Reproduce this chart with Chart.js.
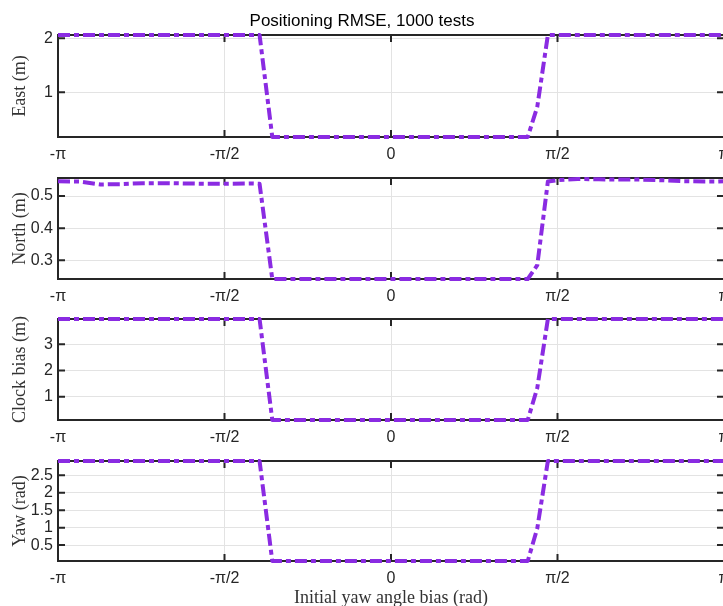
<!DOCTYPE html>
<html>
<head>
<meta charset="utf-8">
<script src="https://cdn.jsdelivr.net/npm/chart.js@4.4.1/dist/chart.umd.min.js"></script>
<style>
  html, body { margin: 0; padding: 0; background: #fff; overflow: hidden; }
  #figure { position: relative; width: 723px; height: 606px; overflow: hidden; }
  #figure canvas { position: absolute; left: 0; }
  #eastChart  { top: 0px; }
  #northChart { top: 162px; }
  #clockChart { top: 303px; }
  #yawChart   { top: 445px; }
</style>
</head>
<body>
<div id="figure">
  <canvas id="eastChart" width="782" height="167"></canvas>
  <canvas id="northChart" width="782" height="147"></canvas>
  <canvas id="clockChart" width="782" height="147"></canvas>
  <canvas id="yawChart" width="782" height="164"></canvas>
</div>
<script>
// initial yaw angle bias (rad) for each test batch
const yawBias = [-3.1416, -2.94, -2.74, -2.54, -2.34, -2.14, -1.94, -1.74, -1.54, -1.34, -1.24,
  -1.12, -0.94, -0.74, -0.54, -0.34, -0.14, 0.06, 0.26, 0.46, 0.66, 0.86, 1.06, 1.29,
  1.38, 1.48, 1.56, 1.76, 1.96, 2.16, 2.36, 2.56, 2.76, 2.96, 3.06, 3.1416];

const eastRmse = [2.06, 2.06, 2.06, 2.06, 2.06, 2.06, 2.06, 2.06, 2.06, 2.06, 2.06,
  0.17, 0.17, 0.17, 0.17, 0.17, 0.17, 0.17, 0.17, 0.17, 0.17, 0.17, 0.17, 0.17,
  0.73, 2.06, 2.06, 2.06, 2.06, 2.06, 2.06, 2.06, 2.06, 2.06, 2.06, 2.06];

const northRmse = [0.546, 0.545, 0.536, 0.537, 0.540, 0.540, 0.539, 0.538, 0.538, 0.539, 0.538,
  0.242, 0.242, 0.242, 0.242, 0.242, 0.242, 0.242, 0.242, 0.242, 0.242, 0.242, 0.242, 0.242,
  0.285, 0.545, 0.549, 0.553, 0.552, 0.551, 0.551, 0.549, 0.546, 0.545, 0.545, 0.546];

const clockRmse = [3.96, 3.96, 3.96, 3.96, 3.96, 3.96, 3.96, 3.96, 3.96, 3.96, 3.96,
  0.11, 0.11, 0.11, 0.11, 0.11, 0.11, 0.11, 0.11, 0.11, 0.11, 0.11, 0.11, 0.11,
  1.33, 3.96, 3.96, 3.96, 3.96, 3.96, 3.96, 3.96, 3.96, 3.96, 3.96, 3.96];

const yawRmse = [2.91, 2.91, 2.91, 2.91, 2.91, 2.91, 2.91, 2.91, 2.91, 2.91, 2.91,
  0.045, 0.045, 0.045, 0.045, 0.045, 0.045, 0.045, 0.045, 0.045, 0.045, 0.045, 0.045, 0.045,
  0.98, 2.91, 2.91, 2.91, 2.91, 2.91, 2.91, 2.91, 2.91, 2.91, 2.91, 2.91];

const xTickValues = [-Math.PI, -Math.PI / 2, 0, Math.PI / 2, Math.PI];
const xTickLabels = ['-π', '-π/2', '0', 'π/2', 'π'];

const eastTicks = [1, 2];
const northTicks = [0.3, 0.4, 0.5];
const clockTicks = [1, 2, 3];
const yawTicks = [0.5, 1, 1.5, 2, 2.5];

const eastLimits = [0.17, 2.06];
const northLimits = [0.242, 0.556];
const clockLimits = [0.11, 3.96];
const yawLimits = [0.045, 2.91];

Chart.defaults.font.family = "'Liberation Sans', Arial, sans-serif";
Chart.defaults.color = '#262626';

const TICK_LEN = 7;
const AXIS_COLOR = '#262626';

// box around the plot area with inward ticks on all four sides
const axisBox = {
  id: 'axisBox',
  beforeDatasetsDraw(chart) {
    const { ctx, chartArea: a, scales: { x, y } } = chart;
    ctx.save();
    ctx.strokeStyle = AXIS_COLOR;
    ctx.lineWidth = 2;
    ctx.strokeRect(a.left, a.top, a.right - a.left, a.bottom - a.top);
    ctx.beginPath();
    x.ticks.forEach(t => {
      const px = x.getPixelForValue(t.value);
      ctx.moveTo(px, a.bottom); ctx.lineTo(px, a.bottom - TICK_LEN);
      ctx.moveTo(px, a.top); ctx.lineTo(px, a.top + TICK_LEN);
    });
    y.ticks.forEach(t => {
      const py = y.getPixelForValue(t.value);
      ctx.moveTo(a.left, py); ctx.lineTo(a.left + TICK_LEN, py);
      ctx.moveTo(a.right, py); ctx.lineTo(a.right - TICK_LEN, py);
    });
    ctx.stroke();
    ctx.restore();
  }
};

function makePanel(id, values, limits, yTicks, yTitle, opts) {
  const ctx = document.getElementById(id).getContext('2d');
  return new Chart(ctx, {
    type: 'line',
    data: {
      datasets: [{
        data: yawBias.map((v, i) => ({ x: v, y: values[i] })),
        borderColor: '#8A2BE2',
        borderWidth: 4,
        borderDash: [12, 4, 5, 4],
        borderCapStyle: 'butt',
        borderJoinStyle: 'round',
        pointRadius: 0,
        tension: 0,
        fill: false,
        clip: false
      }]
    },
    options: {
      responsive: false,
      animation: false,
      devicePixelRatio: 1,
      layout: { padding: { top: opts.padTop, right: 58, bottom: 0, left: 0 } },
      plugins: {
        legend: { display: false },
        tooltip: { enabled: false },
        title: opts.title ? {
          display: true,
          text: opts.title,
          color: '#000',
          font: { size: 17, weight: 'normal' },
          padding: { top: 11, bottom: 3.6 }
        } : { display: false }
      },
      scales: {
        x: {
          type: 'linear',
          min: -Math.PI,
          max: Math.PI,
          afterBuildTicks: s => { s.ticks = xTickValues.map(v => ({ value: v })); },
          afterFit: s => { s.height = opts.xHeight; },
          grid: { color: '#e3e3e3', lineWidth: 1, drawTicks: false },
          border: { display: false },
          ticks: {
            padding: 8,
            maxRotation: 0,
            autoSkip: false,
            font: { size: 16 },
            callback: (v, i) => xTickLabels[i]
          },
          title: opts.xTitle ? {
            display: true,
            text: opts.xTitle,
            font: { family: "'Liberation Serif', 'Times New Roman', serif", size: 18 },
            color: '#333',
            padding: { top: 0, bottom: 0 }
          } : { display: false }
        },
        y: {
          type: 'linear',
          min: limits[0],
          max: limits[1],
          afterBuildTicks: s => { s.ticks = yTicks.map(v => ({ value: v })); },
          afterFit: s => { s.width = 58; },
          grid: { color: '#e3e3e3', lineWidth: 1, drawTicks: false },
          border: { display: false },
          ticks: {
            padding: 5,
            font: { size: 16 },
            callback: v => String(v)
          },
          title: {
            display: true,
            text: yTitle,
            font: { family: "'Liberation Serif', 'Times New Roman', serif", size: 18 },
            color: '#333',
            padding: { top: 9, bottom: 0 }
          }
        }
      }
    },
    plugins: [axisBox]
  });
}

makePanel('eastChart', eastRmse, eastLimits, eastTicks, 'East (m)',
  { padTop: 0, xHeight: 30, title: 'Positioning RMSE, 1000 tests' });
makePanel('northChart', northRmse, northLimits, northTicks, 'North (m)',
  { padTop: 16, xHeight: 30 });
makePanel('clockChart', clockRmse, clockLimits, clockTicks, 'Clock bias (m)',
  { padTop: 16, xHeight: 30 });
makePanel('yawChart', yawRmse, yawLimits, yawTicks, 'Yaw (rad)',
  { padTop: 16, xHeight: 48, xTitle: 'Initial yaw angle bias (rad)' });
</script>
</body>
</html>
